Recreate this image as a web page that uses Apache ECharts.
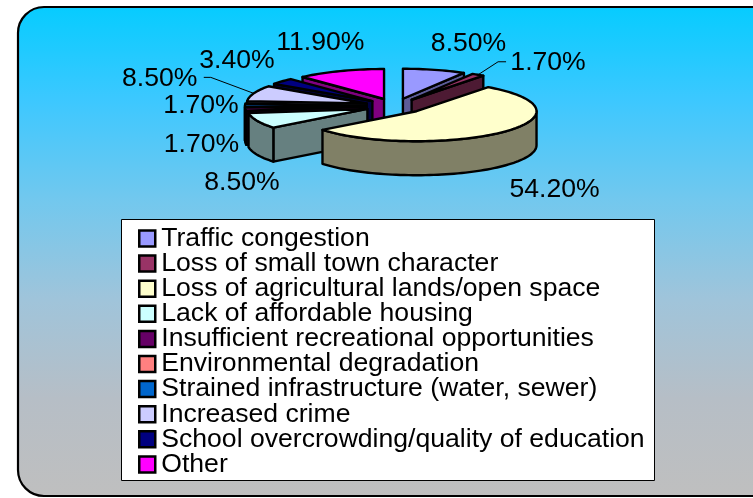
<!DOCTYPE html>
<html>
<head>
<meta charset="utf-8">
<style>html,body{margin:0;padding:0;background:#fff}#c{width:753px;height:498px}</style>
<script src="https://cdn.jsdelivr.net/npm/echarts@6/dist/echarts.min.js"></script>
</head>
<body>
<div id="c"></div>
<script>
const categories = ['Traffic congestion','Loss of small town character','Loss of agricultural lands/open space','Lack of affordable housing','Insufficient recreational opportunities','Environmental degradation','Strained infrastructure (water, sewer)','Increased crime','School overcrowding/quality of education','Other'];
const values = [8.5,1.7,54.2,8.5,1.7,0,1.7,8.5,3.4,11.9];
const topColors = ['#9999FF','#993366','#FFFFCC','#CCFFFF','#660066','#FF8080','#0066CC','#CCCCFF','#000080','#FF00FF'];
const sideColors = ['#5C5C99','#4D1A33','#808066','#668080','#330033','#804040','#003366','#666680','#000040','#800080'];
const labelNudges = [[34,-26],[70,-12],[52,58],[-15,62],[-44,36],[0,0],[-44,1],[-94,-15],[-45,-21],[-20,-28]];
const leaderBends = [null,[20,-13,28],null,null,null,null,null,[-43,-16,-50],null,null];

const cx = 395, cy = 106, rx = 120, ry = 30, depth = 34, explode = 0.25;
const total = values.reduce((a,b)=>a+b,0);
const starts = []; { let s = 0; values.forEach(v=>{ starts.push(s); s += v; }); }
const rad = d => d*Math.PI/180;
const midDeg = i => (starts[i]+values[i]/2)/total*360;
const ellipse = (ax,ay,deg,k=1) => [ax+k*rx*Math.sin(rad(deg)), ay-k*ry*Math.cos(rad(deg))];
const fmt = v => v.toFixed(2)+'%';

function arcPoints(ax,ay,from,to){
  const pts=[]; const n=Math.max(1,Math.ceil((to-from)/2));
  for(let j=0;j<=n;j++) pts.push(ellipse(ax,ay,from+(to-from)*j/n));
  return pts;
}
const down = pts => pts.map(p=>[p[0],p[1]+depth]);

function sliceRender(i){
  return function(params,api){
    const v = api.value(0);
    const from = starts[i]/total*360, to = from+v/total*360, m=midDeg(i);
    const [ax,ay] = ellipse(cx,cy,m,explode);
    const face = {stroke:'#000',lineWidth:2.4,lineJoin:'round'};
    const ch=[];
    const poly=(pts,fill)=>ch.push({type:'polygon',shape:{points:pts},style:Object.assign({fill},face)});
    const apex=[ax,ay];
    if(Math.sin(rad(from))<0){const p=ellipse(ax,ay,from);poly([apex,p,[p[0],p[1]+depth],[ax,ay+depth]],sideColors[i]);}
    if(Math.sin(rad(to))>0){const p=ellipse(ax,ay,to);poly([apex,p,[p[0],p[1]+depth],[ax,ay+depth]],sideColors[i]);}
    const a=Math.max(from,90),b=Math.min(to,270);
    if(b>a){const arc=arcPoints(ax,ay,a,b);poly(arc.concat(down(arc).reverse()),sideColors[i]);}
    poly([apex].concat(arcPoints(ax,ay,from,to)),topColors[i]);
    return {type:'group',children:ch};
  };
}
const order = categories.map((c,i)=>i).sort((p,q)=>Math.abs(midDeg(q)-180)-Math.abs(midDeg(p)-180));
const rank = {}; order.forEach((idx,r)=>rank[idx]=r);

const sliceSeries = categories.map((name,i)=>({
  type:'custom',name,coordinateSystem:'none',silent:true,animation:false,clip:false,
  z:10+rank[i],data:[[values[i]]],renderItem:sliceRender(i),
  itemStyle:{color:topColors[i]}
}));
const labelSeries = {
  type:'custom',name:'labels',coordinateSystem:'none',silent:true,animation:false,z:40,
  data:values.map((v,i)=>[v,i]),
  renderItem(params,api){
    const v=api.value(0), i=api.value(1);
    if(!v) return {type:'group',children:[]};
    const rim=ellipse(cx,cy,midDeg(i),1+explode), n=labelNudges[i], ch=[];
    ch.push({type:'text',style:{x:rim[0]+n[0],y:rim[1]+n[1],text:fmt(v),fill:'#000',
      font:'26.6px "Liberation Sans", Arial, sans-serif',textAlign:'center',textVerticalAlign:'middle'}});
    const l=leaderBends[i];
    if(l) ch.push({type:'polyline',shape:{points:[rim,[rim[0]+l[0],rim[1]+l[1]],[rim[0]+l[2],rim[1]+l[1]]]},style:{stroke:'#000',lineWidth:1,fill:null}});
    return {type:'group',children:ch};
  }
};

const chart = echarts.init(document.getElementById('c'),null,{renderer:'canvas'});
chart.setOption({
  animation:false,
  graphic:[
    {type:'rect',z:1,shape:{x:18,y:7,width:780,height:489,r:26},
      style:{stroke:'#000',lineWidth:2.2,
        fill:new echarts.graphic.LinearGradient(0,0,0,1,[
          {offset:0,color:'#06CCFF'},{offset:0.19,color:'#3CC8FF'},{offset:0.395,color:'#72C8EE'},
          {offset:0.6,color:'#A0C4DA'},{offset:0.8,color:'#B6BEC6'},{offset:1,color:'#BFBFBF'}])}},
    {type:'rect',z:2,shape:{x:121.5,y:219.5,width:533,height:261},style:{fill:'#fff',stroke:'#000',lineWidth:1}}
  ],
  legend:{
    z:50,orient:'vertical',left:138,top:225,padding:0,itemGap:-1.9,itemWidth:16,itemHeight:16,
    icon:'rect',selectedMode:false,
    textStyle:{color:'#000',fontFamily:'"Liberation Sans", Arial, sans-serif',fontSize:26.6,lineHeight:25,padding:[0,0,0,1]},
    data:categories.map((name,i)=>({name,itemStyle:{color:topColors[i],borderColor:'#000',borderWidth:2.5}}))
  },
  series:sliceSeries.concat([labelSeries])
});
</script>
</body>
</html>
